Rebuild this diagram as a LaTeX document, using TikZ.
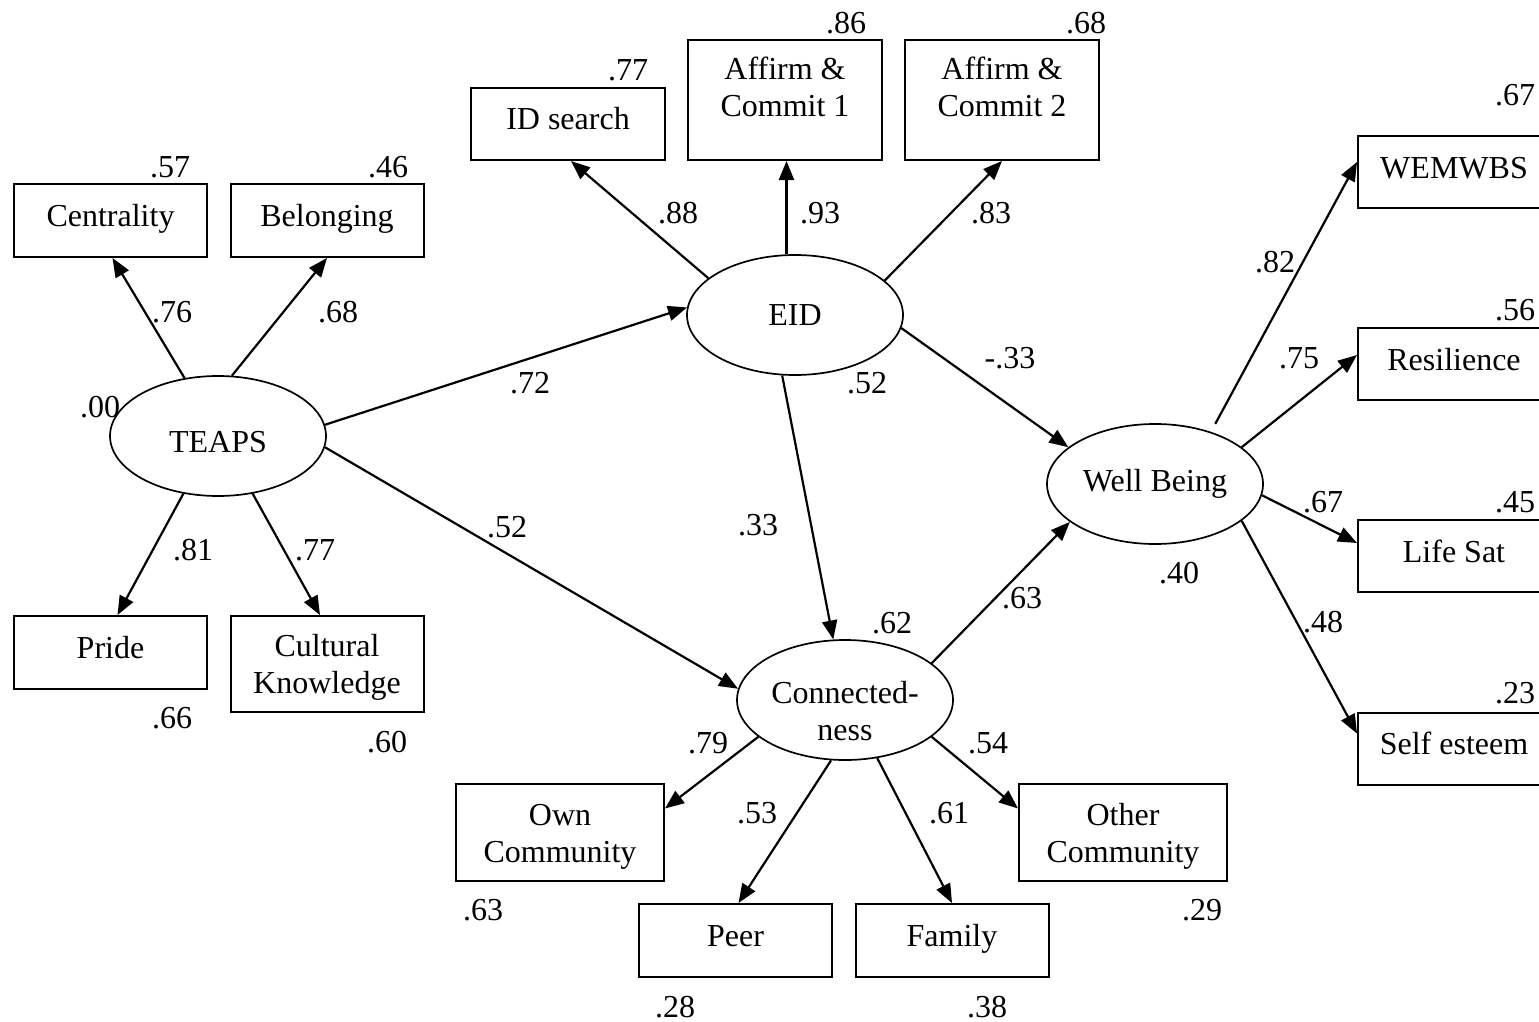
\documentclass[tikz,border=0pt]{standalone}
\usepackage{fontspec}
\setmainfont{Liberation Serif}
\usetikzlibrary{shapes.geometric,arrows.meta}
\begin{document}
\begin{tikzpicture}[x=1pt,y=-1pt,
  every node/.style={font=\fontsize{32}{37}\selectfont},
  box/.style={draw, line width=2pt, rectangle, minimum width=193pt, minimum height=73pt,
              inner sep=0pt, align=center, text height=22pt, text depth=10pt},
  box2/.style={box, text height=59pt, text depth=0pt},
  lat/.style={draw, line width=1.7pt, ellipse, minimum width=216pt, minimum height=120pt,
              inner sep=0pt, align=center},
  val/.style={inner sep=0pt},
  arr/.style={line width=2.2pt, -{Triangle[length=19pt,width=15pt]}}
]
\useasboundingbox (0,0) rectangle (1539,1022);
\clip (0,0) rectangle (1539,1022);

% latent variables
\node[lat, text height=33pt, text depth=0pt] (teaps) at (218,436) {TEAPS};
\node[lat] (eid) at (795,315) {EID};
\node[lat] (wb) at (1155,484) {Well Being};
\node[lat, text height=80pt, text depth=0pt] (con) at (845,700) {Connected-\\ness};

% TEAPS indicators
\node[box] (cen) at (110.5,220.5) {Centrality};
\node[box] (bel) at (327,220.5) {Belonging};
\node[box] (pri) at (110.5,652.5) {Pride};
\node[box2, minimum height=96pt] (cul) at (327,664) {Cultural\\Knowledge};

% EID indicators
\node[box, minimum width=194pt, minimum height=72pt] (ids) at (568,124) {ID search};
\node[box2, minimum width=194pt, minimum height=120pt, text depth=25pt] (af1) at (785,100) {Affirm \&\\Commit 1};
\node[box2, minimum width=194pt, minimum height=120pt, text depth=25pt] (af2) at (1002,100) {Affirm \&\\Commit 2};

% Well Being indicators
\node[box, minimum width=192pt, minimum height=72pt] (wem) at (1454,172) {WEMWBS};
\node[box, minimum width=192pt, minimum height=72pt] (res) at (1454,364) {Resilience};
\node[box, minimum width=192pt, minimum height=72pt] (lif) at (1454,556) {Life Sat};
\node[box, minimum width=192pt, minimum height=72pt] (sel) at (1454,748.5) {Self esteem};

% Connectedness indicators
\node[box2, minimum width=208pt, minimum height=97pt] (own) at (560,832.5) {Own\\Community};
\node[box2, minimum width=208pt, minimum height=97pt] (oth) at (1123,832.5) {Other\\Community};
\node[box] (peer) at (735.5,940.5) {Peer};
\node[box] (fam) at (952,940.5) {Family};

% connectors
\draw[arr] (teaps.120.7) -- ([xshift=2pt]cen.south);
\draw[arr] (teaps.77.6) -- (bel.south);
\draw[arr] (teaps.239.7) -- ([xshift=7pt]pri.north);
\draw[arr] (teaps.301.7) -- ([xshift=-7pt]cul.north);
\draw[arr] (teaps.6) -- (eid.176);
\draw[arr] (teaps.-6) -- (con.174);

\draw[arr] (eid.157.4) -- ([xshift=3pt]ids.south);
\draw[arr] (eid.98.5) -- (eid.98.5 |- af1.south);
\draw[arr] (eid.21.7) -- (af2.south);
\draw[arr] (eid.-7) -- (wb.157.3);
\draw[arr] (eid.258.7) -- (con.101);

\draw[arr, shorten <=9pt] (wb.43) -- ([yshift=10pt]wem.west);
\draw[arr] (wb.23.5) -- ([yshift=9pt]res.west);
\draw[arr] (wb.-6.4) -- ([yshift=13pt]lif.west);
\draw[arr] (wb.-23) -- ([yshift=15pt]sel.west);

\draw[arr] (con.23) -- (wb.204);
\draw[arr] (con.203) -- ([yshift=24pt]own.east);
\draw[arr] (con.257) -- ([xshift=3pt]peer.north);
\draw[arr] (con.299) -- (fam.north);
\draw[arr] (con.337) -- ([yshift=24pt]oth.west);

% values
\node[val] (v1) at (170,167) {.57};
\node[val] (v2) at (388,167) {.46};
\node[val] (v3) at (172,312) {.76};
\node[val] (v4) at (338,312) {.68};
\node[val] (v5) at (100,407) {.00};
\node[val] (v6) at (193,550) {.81};
\node[val] (v7) at (315,550) {.77};
\node[val] (v8) at (172,718) {.66};
\node[val] (v9) at (387,742) {.60};
\node[val] (v10) at (628,70) {.77};
\node[val] (v11) at (846,23) {.86};
\node[val] (v12) at (1086,23) {.68};
\node[val] (v13) at (678,213) {.88};
\node[val] (v14) at (820,213) {.93};
\node[val] (v15) at (991,213) {.83};
\node[val] (v16) at (530,383) {.72};
\node[val] (v17) at (507,527) {.52};
\node[val] (v18) at (867,383) {.52};
\node[val] (v19) at (1010,358) {-.33};
\node[val] (v20) at (758,525) {.33};
\node[val] (v21) at (892,623) {.62};
\node[val] (v22) at (1022,598) {.63};
\node[val] (v23) at (1515,95) {.67};
\node[val] (v24) at (1515,310) {.56};
\node[val] (v25) at (1515,502) {.45};
\node[val] (v26) at (1515,693) {.23};
\node[val] (v27) at (1275,262) {.82};
\node[val] (v28) at (1299,358) {.75};
\node[val] (v29) at (1323,502) {.67};
\node[val] (v30) at (1323,622) {.48};
\node[val] (v31) at (1179,573) {.40};
\node[val] (v32) at (708,743) {.79};
\node[val] (v33) at (988,743) {.54};
\node[val] (v34) at (757,813) {.53};
\node[val] (v35) at (949,813) {.61};
\node[val] (v36) at (483,910) {.63};
\node[val] (v37) at (1202,910) {.29};
\node[val] (v38) at (675,1007) {.28};
\node[val] (v39) at (987,1007) {.38};
\end{tikzpicture}
\end{document}
